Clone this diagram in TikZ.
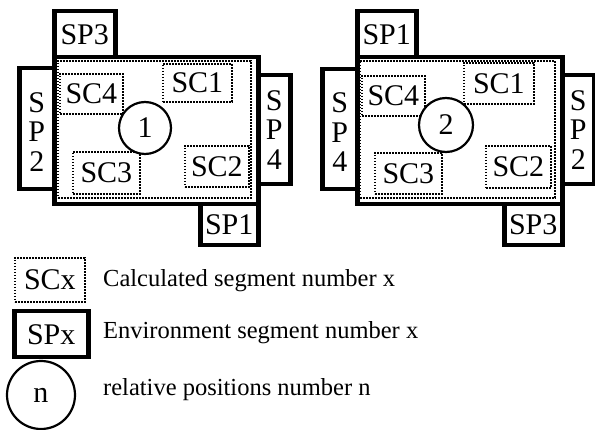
\documentclass[tikz,border=0pt]{standalone}
\usepackage{fontspec}
\setmainfont{Liberation Serif}
\begin{document}
\begin{tikzpicture}[x=1pt,y=-1pt,
  spbox/.style={draw,line width=4.5pt,inner sep=0pt,font=\fontsize{30}{30}\selectfont},
  scbox/.style={draw,line width=1.8pt,dash pattern=on 1.6pt off 1.4pt,inner sep=0pt,font=\fontsize{30}{30}\selectfont},
  mainbox/.style={draw,line width=4.5pt,inner sep=0pt},
  outerdot/.style={draw,line width=1.8pt,dash pattern=on 1.6pt off 1.4pt,inner sep=0pt},
  poscircle/.style={draw,circle,line width=2.2pt,fill=white,inner sep=0pt,font=\fontsize{30}{30}\selectfont},
  legtext/.style={anchor=west,inner sep=0pt,font=\fontsize{24.5}{24.5}\selectfont},
  vert/.style={align=center,font=\fontsize{30}{29.5}\selectfont}]
\useasboundingbox (0,0) rectangle (595,430);
\newcommand\segbox[7]{%
  \pgfmathsetmacro\bw{#5-#3}\pgfmathsetmacro\bh{#6-#4}%
  \node[#1, minimum width=\bw pt, minimum height=\bh pt, anchor=north west] (#2) at (#3,#4) {#7};}
% ---------- left diagram ----------
\segbox{spbox}{lsp3}{52}{9}{113}{55}{SP3}
\segbox{spbox}{lsp2}{17}{66}{52}{187}{}
\node[vert] at ([yshift=-3pt]lsp2.center) {S\\P\\2};
\segbox{spbox}{lsp4}{256}{73}{288}{182}{}
\node[vert] at (lsp4.center) {S\\P\\4};
\segbox{spbox}{lsp1}{198}{202}{256}{243}{SP1}
\segbox{mainbox}{lmain}{52}{55}{256}{202}{}
\segbox{outerdot}{louter}{57}{60}{250}{197}{}
\segbox{scbox}{lsc4}{59}{73}{122}{113}{SC4}
\segbox{scbox}{lsc1}{162}{63}{231}{101}{SC1}
\segbox{scbox}{lsc3}{72}{151}{139}{193}{SC3}
\segbox{scbox}{lsc2}{184}{145}{248}{186}{SC2}
\node[poscircle,minimum size=52pt] (lpos) at (145,128) {1};
% ---------- right diagram ----------
\segbox{spbox}{rsp1}{355}{9}{414}{55}{SP1}
\segbox{spbox}{rsp4}{320}{67}{355}{187}{}
\node[vert] at ([yshift=-3pt]rsp4.center) {S\\P\\4};
\segbox{spbox}{rsp2}{560}{73}{592}{182}{}
\node[vert] at (rsp2.center) {S\\P\\2};
\segbox{spbox}{rsp3}{502}{202}{560}{243}{SP3}
\segbox{mainbox}{rmain}{355}{55}{560}{202}{}
\segbox{outerdot}{router}{359}{60}{554}{197}{}
\segbox{scbox}{rsc4}{361}{75}{424}{115}{SC4}
\segbox{scbox}{rsc1}{463}{62}{533}{103}{SC1}
\segbox{scbox}{rsc3}{374}{152}{441}{193}{SC3}
\segbox{scbox}{rsc2}{485}{145}{550}{187}{SC2}
\node[poscircle,minimum size=54pt] (rpos) at (446,125) {2};
% ---------- legend ----------
\segbox{scbox}{lgsc}{14}{257}{84}{301}{SCx}
\segbox{spbox}{lgsp}{12}{309}{86}{355}{SPx}
\node[poscircle,minimum size=68pt,fill=none] (lgpos) at (41,395) {n};
\node[legtext] (t1) at (103,281) {Calculated segment number x};
\node[legtext] (t2) at (103,333) {Environment segment number x};
\node[legtext] (t3) at (103,390) {relative positions number n};
\end{tikzpicture}
\end{document}
